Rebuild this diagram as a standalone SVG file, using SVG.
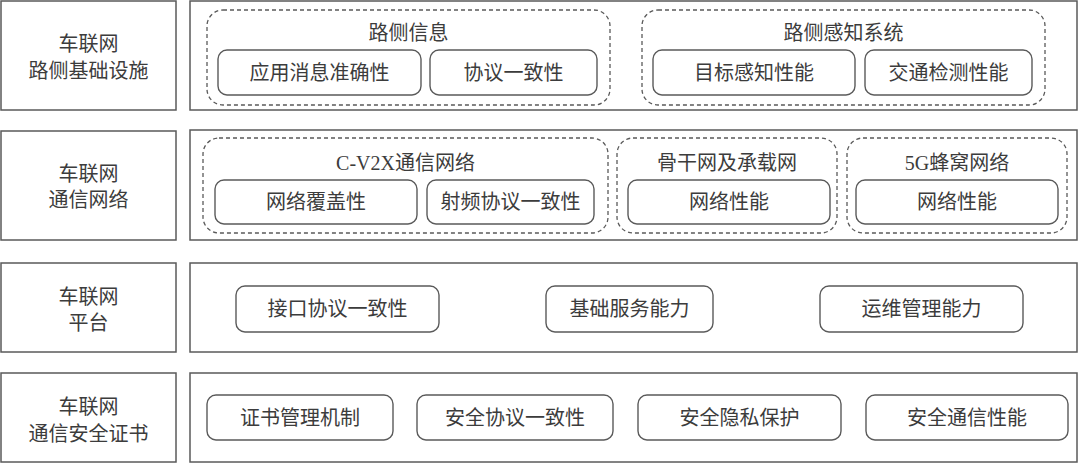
<svg xmlns="http://www.w3.org/2000/svg" width="1080" height="464" viewBox="0 0 1080 464">
<style>
.bg{fill:#ffffff}
.outer{fill:#ffffff;stroke:#5a5a5a;stroke-width:1.5}
.grp{fill:none;stroke:#5a5a5a;stroke-width:1.3;stroke-dasharray:4 3}
.box{fill:#ffffff;stroke:#5a5a5a;stroke-width:1.4}
text{font-family:"Liberation Serif","Noto Sans CJK SC",serif;font-size:20px;fill:#3c3c3c;text-anchor:middle;dominant-baseline:central}
</style>
<rect class="bg" x="0" y="0" width="1080" height="464"/>

<g id="row1-label"><rect class="outer" x="1" y="1" width="175" height="109"/><text x="88.5" y="44">车联网</text><text x="88.5" y="71">路侧基础设施</text></g>
<g id="row1-body"><rect class="outer" x="190" y="1" width="887" height="109"/></g>
<g id="g-roadinfo"><rect class="grp" x="207" y="10" width="403" height="95" rx="16"/><text x="408.5" y="33">路侧信息</text></g>
<g id="n-msg"><rect class="box" x="218" y="50" width="203" height="45" rx="9"/><text x="319.5" y="72.5">应用消息准确性</text></g>
<g id="n-proto1"><rect class="box" x="430" y="50" width="167" height="45" rx="9"/><text x="513.5" y="72.5">协议一致性</text></g>
<g id="g-sense"><rect class="grp" x="642" y="10" width="403" height="95" rx="16"/><text x="843.5" y="33">路侧感知系统</text></g>
<g id="n-target"><rect class="box" x="653" y="50" width="202" height="45" rx="9"/><text x="754" y="72.5">目标感知性能</text></g>
<g id="n-traffic"><rect class="box" x="865" y="50" width="167" height="45" rx="9"/><text x="948.5" y="72.5">交通检测性能</text></g>

<g id="row2-label"><rect class="outer" x="1" y="131" width="175" height="109"/><text x="88.5" y="174">车联网</text><text x="88.5" y="200">通信网络</text></g>
<g id="row2-body"><rect class="outer" x="190" y="130" width="887" height="110"/></g>
<g id="g-cv2x"><rect class="grp" x="203" y="138" width="405" height="95" rx="16"/><text x="405.5" y="163">C-V2X通信网络</text></g>
<g id="n-cover"><rect class="box" x="215" y="180" width="202" height="44" rx="9"/><text x="316" y="202">网络覆盖性</text></g>
<g id="n-rf"><rect class="box" x="427" y="180" width="167" height="44" rx="9"/><text x="510.5" y="202">射频协议一致性</text></g>
<g id="g-backbone"><rect class="grp" x="617" y="138" width="220" height="95" rx="16"/><text x="727" y="163">骨干网及承载网</text></g>
<g id="n-net1"><rect class="box" x="628" y="180" width="202" height="44" rx="9"/><text x="729" y="202">网络性能</text></g>
<g id="g-5g"><rect class="grp" x="847" y="138" width="220" height="95" rx="16"/><text x="957" y="163">5G蜂窝网络</text></g>
<g id="n-net2"><rect class="box" x="856" y="180" width="202" height="44" rx="9"/><text x="957" y="202">网络性能</text></g>

<g id="row3-label"><rect class="outer" x="1" y="263" width="175" height="89"/><text x="88.5" y="297">车联网</text><text x="88.5" y="323">平台</text></g>
<g id="row3-body"><rect class="outer" x="190" y="263" width="887" height="89"/></g>
<g id="n-iface"><rect class="box" x="236" y="286" width="203" height="46" rx="9"/><text x="337.5" y="309">接口协议一致性</text></g>
<g id="n-basic"><rect class="box" x="546" y="286" width="167" height="46" rx="9"/><text x="629.5" y="309">基础服务能力</text></g>
<g id="n-ops"><rect class="box" x="820" y="286" width="203" height="46" rx="9"/><text x="921.5" y="309">运维管理能力</text></g>

<g id="row4-label"><rect class="outer" x="1" y="373" width="175" height="89"/><text x="88.5" y="407">车联网</text><text x="88.5" y="434">通信安全证书</text></g>
<g id="row4-body"><rect class="outer" x="190" y="373" width="887" height="89"/></g>
<g id="n-cert"><rect class="box" x="207" y="395" width="186" height="45" rx="9"/><text x="300" y="417.5">证书管理机制</text></g>
<g id="n-secproto"><rect class="box" x="417" y="395" width="196" height="45" rx="9"/><text x="515" y="417.5">安全协议一致性</text></g>
<g id="n-privacy"><rect class="box" x="638" y="395" width="203" height="45" rx="9"/><text x="739.5" y="417.5">安全隐私保护</text></g>
<g id="n-seccomm"><rect class="box" x="866" y="395" width="202" height="45" rx="9"/><text x="967" y="417.5">安全通信性能</text></g>

<g id="connectors"></g>
</svg>
